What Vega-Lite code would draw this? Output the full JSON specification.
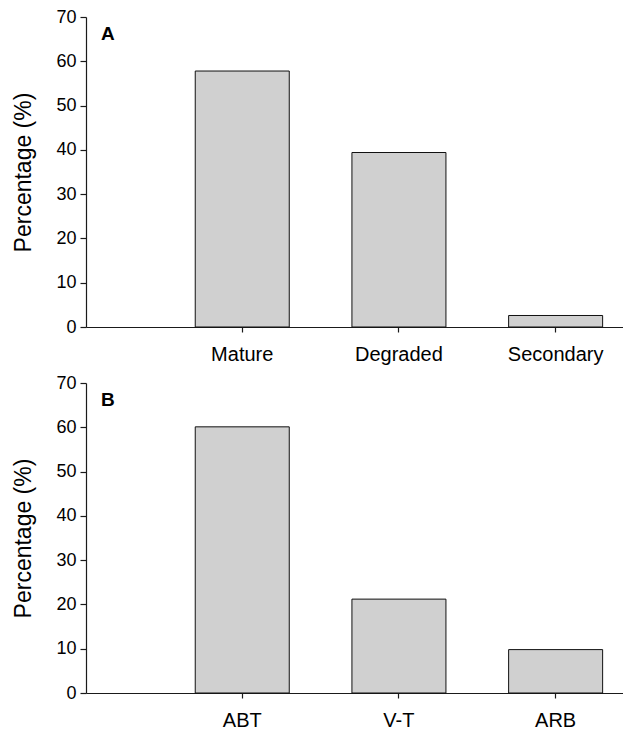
{
  "$schema": "https://vega.github.io/schema/vega-lite/v6.json",
  "padding": {"left": 12, "top": 8, "right": 0, "bottom": 0},
  "background": "white",
  "datasets": {
    "a": [
      {"category": "Mature", "percentage": 57.8},
      {"category": "Degraded", "percentage": 39.4},
      {"category": "Secondary", "percentage": 2.6}
    ],
    "b": [
      {"category": "ABT", "percentage": 60.1},
      {"category": "V-T", "percentage": 21.2},
      {"category": "ARB", "percentage": 9.8}
    ]
  },
  "spacing": 10,
  "vconcat": [
    {
      "data": {"name": "a"},
      "width": 539,
      "height": 310,
      "title": {"text": "A", "anchor": "start", "frame": "group", "orient": "top", "offset": -27, "baseline": "top", "dx": 15, "dy": 9, "fontSize": 19, "fontWeight": "bold", "font": "Liberation Sans", "color": "black"},
      "mark": {"type": "bar", "fill": "#d0d0d0", "stroke": "#111111", "strokeWidth": 1},
      "encoding": {
        "x": {"field": "category", "type": "nominal", "sort": null,
              "scale": {"paddingInner": 0.4, "paddingOuter": 0.42, "align": 0.83},
              "axis": {"title": null, "labelAngle": 0}},
        "y": {"field": "percentage", "type": "quantitative",
              "scale": {"domain": [0, 70], "nice": false},
              "axis": {"title": "Percentage (%)", "values": [0, 10, 20, 30, 40, 50, 60, 70]}}
      }
    },
    {
      "data": {"name": "b"},
      "width": 539,
      "height": 310,
      "title": {"text": "B", "anchor": "start", "frame": "group", "orient": "top", "offset": -27, "baseline": "top", "dx": 15, "dy": 9, "fontSize": 19, "fontWeight": "bold", "font": "Liberation Sans", "color": "black"},
      "mark": {"type": "bar", "fill": "#d0d0d0", "stroke": "#111111", "strokeWidth": 1},
      "encoding": {
        "x": {"field": "category", "type": "nominal", "sort": null,
              "scale": {"paddingInner": 0.4, "paddingOuter": 0.42, "align": 0.83},
              "axis": {"title": null, "labelAngle": 0}},
        "y": {"field": "percentage", "type": "quantitative",
              "scale": {"domain": [0, 70], "nice": false},
              "axis": {"title": "Percentage (%)", "values": [0, 10, 20, 30, 40, 50, 60, 70]}}
      }
    }
  ],
  "config": {
    "view": {"stroke": null},
    "font": "Liberation Sans",
    "axis": {
      "grid": false,
      "domainColor": "#1a1a1a",
      "domainWidth": 1.2,
      "tickColor": "#1a1a1a",
      "tickWidth": 1.2,
      "labelColor": "black",
      "titleColor": "black",
      "labelFont": "Liberation Sans",
      "titleFont": "Liberation Sans"
    },
    "axisX": {"tickSize": 5, "labelFontSize": 20, "labelPadding": 12},
    "axisY": {"tickSize": 6, "labelFontSize": 18, "labelPadding": 4, "titleFontSize": 23, "titleFontWeight": "normal", "titlePadding": 20}
  }
}
